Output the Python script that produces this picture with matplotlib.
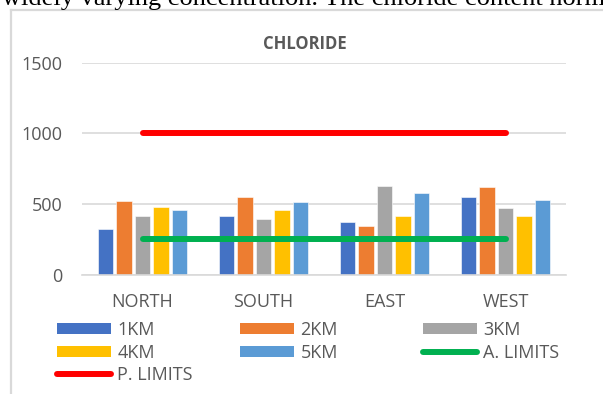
import matplotlib
matplotlib.use("Agg")
import matplotlib.pyplot as plt
from matplotlib.patches import Patch
from matplotlib.lines import Line2D
import numpy as np

# ---- data -------------------------------------------------------------
regions = ["NORTH", "SOUTH", "EAST", "WEST"]
series_names = ["1KM", "2KM", "3KM", "4KM", "5KM"]
km1 = [322, 413, 375, 547]
km2 = [521, 549, 347, 622]
km3 = [413, 394, 629, 474]
km4 = [477, 458, 411, 411]
km5 = [458, 512, 575, 530]
a_limits = [250, 250, 250, 250]
p_limits = [1000, 1000, 1000, 1000]
y_ticks = [0, 500, 1000, 1500]

bar_colors = ["#4472C4", "#ED7D31", "#A5A5A5", "#FFC000", "#5B9BD5"]
green = "#00B050"
red = "#FF0000"
text_gray = "#595959"
grid_gray = "#D9D9D9"

W, H = 603, 394
fig = plt.figure(figsize=(W / 100, H / 100), dpi=100)


def fx(px):
    return px / W


def fy(py):
    return 1 - py / H


# page text running above the chart
fig.text(fx(2), fy(5), "widely varying concentration. The chloride content norm",
         family="Liberation Serif", fontsize=19, color="black", va="baseline", ha="left")

# chart-area border
fig.add_artist(Line2D([fx(11), fx(11)], [fy(10), 0], color=grid_gray, lw=1.6))
fig.add_artist(Line2D([fx(11), 1], [fy(10), fy(10)], color=grid_gray, lw=1.6))

ax = fig.add_axes([fx(82), fy(274.5), fx(566) - fx(82), (274.5 - 62.7) / H])

x = np.arange(len(regions))
pitch = 0.153
width = 0.13
all_series = [km1, km2, km3, km4, km5]
for i, (vals, col) in enumerate(zip(all_series, bar_colors)):
    ax.bar(x + (i - 2) * pitch, vals, width, color=col, zorder=2,
           edgecolor="white", linewidth=0.4)

ax.plot(x, a_limits, color=green, lw=4.3, solid_capstyle="round", zorder=3)
ax.plot(x, p_limits, color=red, lw=4.3, solid_capstyle="round", zorder=3)

ax.set_xlim(-0.5, len(regions) - 0.5)
ax.set_ylim(0, 1500)
ax.set_yticks(y_ticks)
ax.set_xticks(x)
ax.set_xticklabels(regions)
for s in ["top", "right", "left"]:
    ax.spines[s].set_visible(False)
ax.spines["bottom"].set_color(grid_gray)
ax.spines["bottom"].set_linewidth(1.2)
ax.grid(axis="y", color=grid_gray, lw=1.2, zorder=0)
ax.set_axisbelow(True)
ax.tick_params(axis="both", length=0, colors=text_gray, labelsize=13)
ax.tick_params(axis="y", pad=14)
ax.tick_params(axis="x", pad=13)
for lab in ax.get_xticklabels() + ax.get_yticklabels():
    lab.set_family("Open Sans")

fig.text(fx(305), fy(44), "CHLORIDE", ha="center", va="center",
         family="Open Sans", weight="bold", fontsize=12, color=text_gray)

# legend: three columns laid out row by row
h = {name: Patch(facecolor=c, edgecolor="none") for name, c in zip(series_names, bar_colors)}
h["A. LIMITS"] = Line2D([], [], color=green, lw=4.3, solid_capstyle="round")
h["P. LIMITS"] = Line2D([], [], color=red, lw=4.3, solid_capstyle="round")
columns = [(["1KM", "4KM", "P. LIMITS"], 57),
           (["2KM", "5KM"], 240),
           (["3KM", "A. LIMITS"], 423)]
for names, left in columns:
    leg = fig.legend([h[n] for n in names], names, loc="upper left",
                     bbox_to_anchor=(fx(left), fy(321)), frameon=False,
                     prop={"family": "Open Sans", "size": 13},
                     labelcolor=text_gray, handlelength=3.0, handleheight=0.55,
                     handletextpad=0.35, labelspacing=0.25, borderpad=0,
                     borderaxespad=0)

fig.savefig("out.png", dpi=100)
